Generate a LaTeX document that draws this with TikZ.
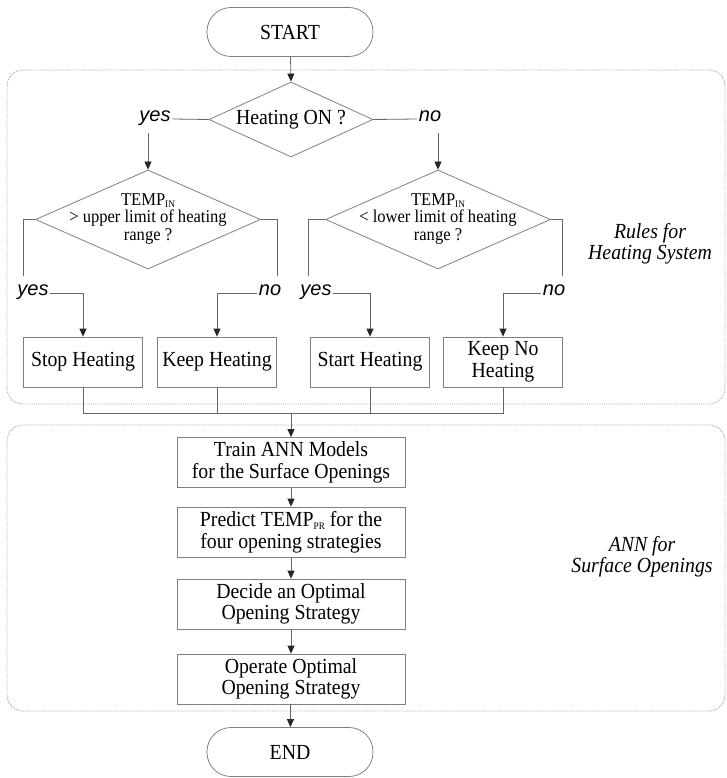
\documentclass[tikz,border=0pt]{standalone}
\usepackage{fontspec}
\setmainfont[FakeStretch=0.92]{Liberation Serif}
\setsansfont{Liberation Sans}
\usetikzlibrary{shapes.geometric,arrows.meta}
\newcommand{\lowsub}[2]{\raisebox{-#2}{\fontsize{10}{10}\selectfont #1}}
\begin{document}
\begin{tikzpicture}[x=1pt,y=-1pt,
  lineC/.style={draw=black!60, line width=0.8pt},
  arr/.style={lineC, -{Triangle[length=8pt,width=7pt,color=black!85]}},
  boxS/.style={draw=black!50, line width=0.8pt, rectangle, minimum height=50pt, inner sep=0pt, align=center, font=\fontsize{21.5}{21.5}\selectfont},
  smallbox/.style={boxS, minimum width=119pt},
  bigbox/.style={boxS, minimum width=228pt},
  term/.style={boxS, minimum width=166pt, minimum height=49pt, rounded corners=24pt},
  dia/.style={draw=black!50, line width=0.8pt, diamond, inner sep=0pt},
  diatext/.style={align=center, inner sep=0pt, font=\fontsize{18}{17.5}\selectfont},
  yn/.style={font=\sffamily\itshape\fontsize{20}{22}\selectfont, inner sep=1.5pt, text height=1ex, text depth=0pt},
  grp/.style={draw=black!35, densely dotted, line width=0.9pt, rounded corners=16pt},
  grplabel/.style={align=center, font=\itshape\fontsize{21.5}{21}\selectfont, inner sep=0pt}
]
\useasboundingbox (0,0) rectangle (727,778);

% group containers
\draw[grp] (7,70) rectangle (725,404);
\draw[grp] (7,425) rectangle (725,711);
\node[grplabel] (lab1) at (650,244) {Rules for\\Heating System};
\node[grplabel] (lab2) at (642,557) {ANN for\\Surface Openings};

% start and first decision
\node[term] (start) at (290,32) {START};
\node[dia, minimum width=164pt, minimum height=75pt] (h1) at (291,119.5) {};
\node[diatext, font=\fontsize{21.5}{22}\selectfont] (h1t) at (291,119.5) {Heating ON ?};
\draw[arr] (start) -- (h1.north);

\node[yn] (yes1) at (155,119) {yes};
\node[yn] (no1) at (430,119) {no};
\draw[lineC] (h1.west) -- (yes1.east);
\draw[lineC] (h1.east) -- (no1.west);

% second-level decisions
\node[dia, minimum width=225pt, minimum height=99pt] (d1) at (148,219.5) {};
\node[diatext] (d1t) at (148,219) {TEMP\lowsub{IN}{2pt}\\> upper limit of heating\\range ?};
\node[dia, minimum width=225pt, minimum height=99pt] (d2) at (438,219.5) {};
\node[diatext] (d2t) at (438,219) {TEMP\lowsub{IN}{2pt}\\< lower limit of heating\\range ?};

\coordinate (y1a) at (148,133);
\coordinate (n1a) at (438,133);
\draw[arr] (y1a) -- (d1.north);
\draw[arr] (n1a) -- (d2.north);

% branch ends
\coordinate (d1l) at (23,276);
\coordinate (d1r) at (277,276);
\coordinate (d2l) at (308,276);
\coordinate (d2r) at (562,276);
\draw[lineC] (d1.west) -| (d1l);
\draw[lineC] (d1.east) -| (d1r);
\draw[lineC] (d2.west) -| (d2l);
\draw[lineC] (d2.east) -| (d2r);

\node[yn] (yes2) at (33,293) {yes};
\node[yn] (no2) at (270,293) {no};
\node[yn] (yes3) at (316,293) {yes};
\node[yn] (no3) at (554,293) {no};

% action boxes
\node[smallbox] (stop) at (83,362) {Stop Heating};
\node[smallbox] (keep) at (217,362) {Keep Heating};
\node[smallbox] (starth) at (370,362) {Start Heating};
\node[smallbox] (keepno) at (503,362) {Keep No\\Heating};

\draw[arr] (yes2.east) -| (stop.north);
\draw[arr] (no2.west) -| (keep.north);
\draw[arr] (yes3.east) -| (starth.north);
\draw[arr] (no3.west) -| (keepno.north);

% merge
\coordinate (m) at (291,413);
\draw[lineC] (stop.south) |- (m) (keep.south) |- (m) (starth.south) |- (m) (keepno.south) |- (m);

% ANN column
\node[bigbox] (train) at (291,462.5) {Train ANN Models\\for the Surface Openings};
\node[bigbox] (predict) at (291,532) {Predict TEMP\lowsub{PR}{3pt} for the\\four opening strategies};
\node[bigbox] (decide) at (291,604) {Decide an Optimal\\Opening Strategy};
\node[bigbox] (operate) at (291,679) {Operate Optimal\\Opening Strategy};
\node[term] (end) at (290,752) {END};

\draw[arr] (m) -- (train.north);
\draw[arr] (train) -- (predict);
\draw[arr] (predict) -- (decide);
\draw[arr] (decide) -- (operate);
\draw[arr] (operate) -- (end);
\end{tikzpicture}
\end{document}
